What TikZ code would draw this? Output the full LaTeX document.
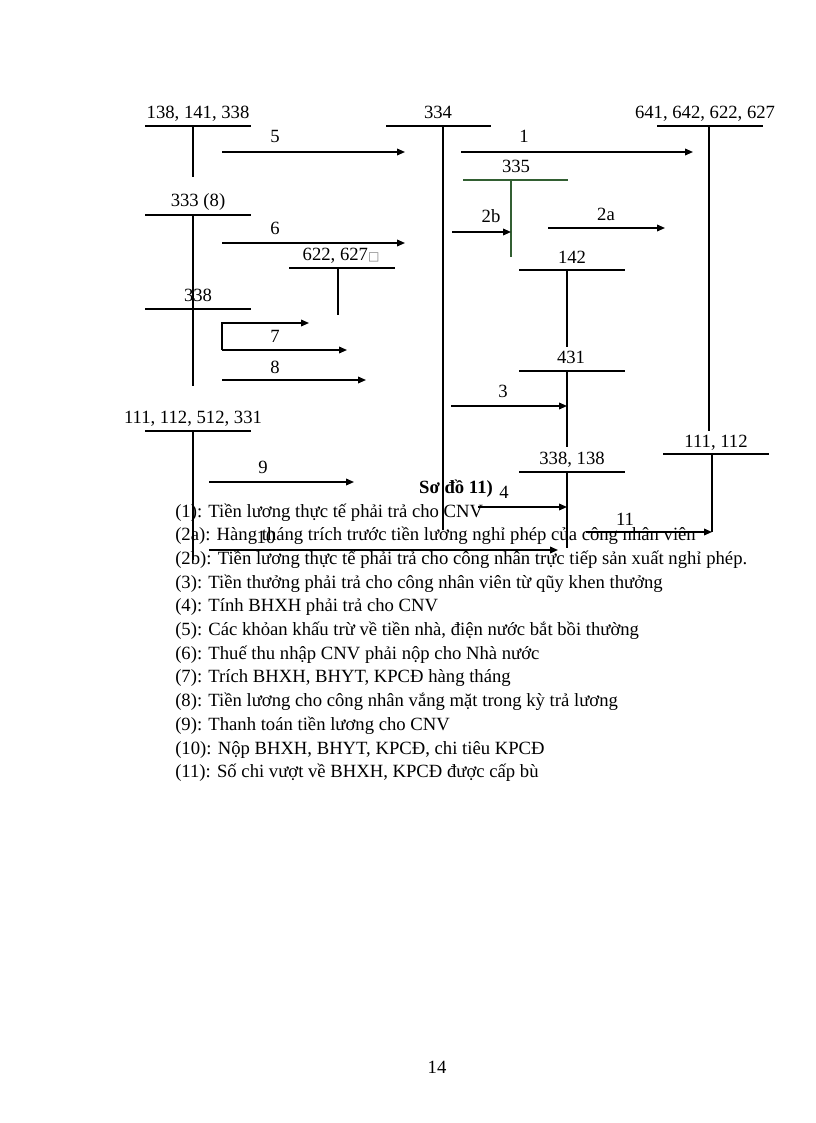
\documentclass[tikz,border=0pt]{standalone}
\usepackage{fontspec}
\setmainfont{Liberation Serif}
\newfontfamily\symf{DejaVu Sans}
\usetikzlibrary{arrows.meta}
\definecolor{darkgr}{RGB}{50,95,50}
\begin{document}
\begin{tikzpicture}[x=0.75pt,y=-0.75pt,
  acc/.style={line width=1.3pt},
  thinl/.style={line width=0.8pt},
  arr/.style={line width=1.1pt,-{Triangle[length=6pt,width=5pt]}},
  lbl/.style={inner sep=0pt,anchor=base,font=\fontsize{14}{16}\selectfont},
  leg/.style={inner sep=0pt,anchor=base west,font=\fontsize{14}{16}\selectfont}]
\useasboundingbox (0,0) rectangle (816,1123);

% ---------- T-accounts ----------
% 138, 141, 338
\node[lbl] (a1) at (198,119) {138, 141, 338};
\coordinate (a1l) at (145,126); \coordinate (a1r) at (251,126);
\coordinate (a1t) at (193,126); \coordinate (a1b) at (193,177);
\draw[acc] (a1l) -- (a1r); \draw[acc] (a1t) -- (a1b);
% 333 (8)
\node[lbl] (a2) at (198,207) {333 (8)};
\coordinate (a2l) at (145,215); \coordinate (a2r) at (251,215);
\coordinate (a2t) at (193,215); \coordinate (a2b) at (193,309);
\draw[acc] (a2l) -- (a2r); \draw[acc] (a2t) -- (a2b);
% 622, 627
\node[lbl] (a3) at (341,260) {622, 627{\symf\fontsize{9}{10}\selectfont\color{gray}□}};
\coordinate (a3l) at (289,268); \coordinate (a3r) at (395,268);
\coordinate (a3t) at (338,268); \coordinate (a3b) at (338,315);
\draw[acc] (a3l) -- (a3r); \draw[acc] (a3t) -- (a3b);
% 338
\node[lbl] (a4) at (198,301) {338};
\coordinate (a4l) at (145,309); \coordinate (a4r) at (251,309);
\coordinate (a4t) at (193,309); \coordinate (a4b) at (193,386);
\draw[thinl] (a4l) -- (a4r); \draw[acc] (a4t) -- (a4b);
% 111, 112, 512, 331
\node[lbl] (a5) at (193,423) {111, 112, 512, 331};
\coordinate (a5l) at (145,431); \coordinate (a5r) at (251,431);
\coordinate (a5t) at (193,431); \coordinate (a5b) at (193,560);
\draw[acc] (a5l) -- (a5r); \draw[acc] (a5t) -- (a5b);
% 334
\node[lbl] (b1) at (438,119) {334};
\coordinate (b1l) at (386,126); \coordinate (b1r) at (491,126);
\coordinate (b1t) at (443,126); \coordinate (b1b) at (443,530);
\draw[acc] (b1l) -- (b1r); \draw[acc] (b1t) -- (b1b);
% 641, 642, 622, 627
\node[lbl] (c1) at (705,119) {641, 642, 622, 627};
\coordinate (c1l) at (657,126); \coordinate (c1r) at (763,126);
\coordinate (c1t) at (709,126); \coordinate (c1b) at (709,431);
\draw[acc] (c1l) -- (c1r); \draw[acc] (c1t) -- (c1b);
% 335
\node[lbl] (d1) at (516,173) {335};
\coordinate (d1l) at (463,180); \coordinate (d1r) at (568,180);
\coordinate (d1t) at (511,180); \coordinate (d1b) at (511,257);
\draw[thinl,darkgr] (d1l) -- (d1r); \draw[thinl,darkgr] (d1t) -- (d1b);
% 142
\node[lbl] (e1) at (572,263) {142};
\coordinate (e1l) at (519,270); \coordinate (e1r) at (625,270);
\coordinate (e1t) at (567,270); \coordinate (e1b) at (567,347);
\draw[acc] (e1l) -- (e1r); \draw[thinl] (e1t) -- (e1b);
% 431
\node[lbl] (e2) at (571,363) {431};
\coordinate (e2l) at (519,371); \coordinate (e2r) at (625,371);
\coordinate (e2t) at (567,371); \coordinate (e2b) at (567,447);
\draw[acc] (e2l) -- (e2r); \draw[thinl] (e2t) -- (e2b);
% 338, 138
\node[lbl] (e3) at (572,464) {338, 138};
\coordinate (e3l) at (519,472); \coordinate (e3r) at (625,472);
\coordinate (e3t) at (567,472); \coordinate (e3b) at (567,548);
\draw[thinl] (e3l) -- (e3r); \draw[thinl] (e3t) -- (e3b);
% 111, 112
\node[lbl] (f1) at (716,447) {111, 112};
\coordinate (f1l) at (663,454); \coordinate (f1r) at (769,454);
\coordinate (f1t) at (712,454); \coordinate (f1b) at (712,532);
\draw[acc] (f1l) -- (f1r); \draw[acc] (f1t) -- (f1b);

% ---------- arrows ----------
\coordinate (s5) at (222,152); \coordinate (t5) at (405,152);
\draw[arr] (s5) -- (t5); \node[lbl] (n5) at (275,143) {5};
\coordinate (s6) at (222,243); \coordinate (t6) at (405,243);
\draw[arr] (s6) -- (t6); \node[lbl] (n6) at (275,234) {6};
\coordinate (s7) at (222,350); \coordinate (m7) at (222,323);
\coordinate (t7a) at (309,323); \coordinate (t7b) at (347,350);
\draw[arr] (s7) -- (m7) -- (t7a); \draw[arr] (s7) -- (t7b);
\node[lbl] (n7) at (275,342) {7};
\coordinate (s8) at (222,380); \coordinate (t8) at (366,380);
\draw[arr] (s8) -- (t8); \node[lbl] (n8) at (275,373) {8};
\coordinate (s9) at (209,482); \coordinate (t9) at (354,482);
\draw[arr] (s9) -- (t9); \node[lbl] (n9) at (263,473) {9};
\coordinate (s10) at (209,550); \coordinate (t10) at (558,550);
\draw[arr] (s10) -- (t10); \node[lbl] (n10) at (266,543) {10};
\coordinate (s1) at (461,152); \coordinate (t1) at (693,152);
\draw[arr] (s1) -- (t1); \node[lbl] (n1) at (524,143) {1};
\coordinate (s2b) at (452,232); \coordinate (t2b) at (511,232);
\draw[arr] (s2b) -- (t2b); \node[lbl] (n2b) at (491,223) {2b};
\coordinate (s2a) at (548,228); \coordinate (t2a) at (665,228);
\draw[arr] (s2a) -- (t2a); \node[lbl] (n2a) at (606,220) {2a};
\coordinate (s3) at (451,406); \coordinate (t3) at (567,406);
\draw[arr] (s3) -- (t3); \node[lbl] (n3) at (503,397) {3};
\coordinate (s4) at (478,507); \coordinate (t4) at (567,507);
\draw[arr] (s4) -- (t4); \node[lbl] (n4) at (504,498) {4};
\coordinate (s11) at (586,532); \coordinate (t11) at (712,532);
\draw[arr] (s11) -- (t11); \node[lbl] (n11) at (625,525) {11};

% ---------- caption and legend ----------
\node[lbl,font=\fontsize{14}{16}\selectfont\bfseries] (cap) at (456,493) {Sơ đồ 11)};
\node[leg] (l1) at (175,517) {(1): Tiền lương thực tế phải trả cho CNV};
\node[leg] (l2) at (175,540.7) {(2a): Hàng tháng trích trước tiền lương nghỉ phép của công nhân viên};
\node[leg] (l3) at (175,564.4) {(2b): Tiền lương thực tế phải trả cho công nhân trực tiếp sản xuất nghỉ phép.};
\node[leg] (l4) at (175,588.1) {(3): Tiền thưởng phải trả cho công nhân viên từ qũy khen thưởng};
\node[leg] (l5) at (175,611.8) {(4): Tính BHXH phải trả cho CNV};
\node[leg] (l6) at (175,635.5) {(5): Các khỏan khấu trừ về tiền nhà, điện nước bắt bồi thường};
\node[leg] (l7) at (175,659.2) {(6): Thuế thu nhập CNV phải nộp cho Nhà nước};
\node[leg] (l8) at (175,682.9) {(7): Trích BHXH, BHYT, KPCĐ hàng tháng};
\node[leg] (l9) at (175,706.6) {(8): Tiền lương cho công nhân vắng mặt trong kỳ trả lương};
\node[leg] (l10) at (175,730.3) {(9): Thanh toán tiền lương cho CNV};
\node[leg] (l11) at (175,754) {(10): Nộp BHXH, BHYT, KPCĐ, chi tiêu KPCĐ};
\node[leg] (l12) at (175,777.7) {(11): Số chi vượt về BHXH, KPCĐ được cấp bù};

\node[lbl] (pg) at (437,1073) {14};
\end{tikzpicture}
\end{document}
